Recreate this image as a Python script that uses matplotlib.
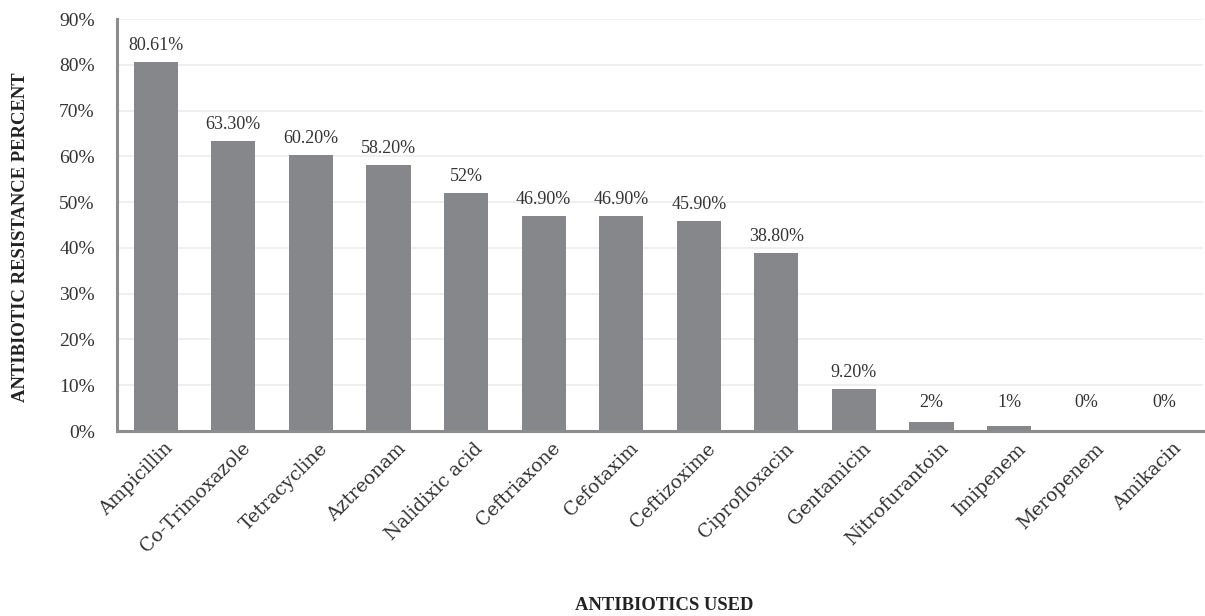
import matplotlib
matplotlib.use("Agg")
import matplotlib.pyplot as plt
import matplotlib.transforms as mtransforms
import numpy as np

categories = ["Ampicillin", "Co-Trimoxazole", "Tetracycline", "Aztreonam", "Nalidixic acid",
              "Ceftriaxone", "Cefotaxim", "Ceftizoxime", "Ciprofloxacin", "Gentamicin",
              "Nitrofurantoin", "Imipenem", "Meropenem", "Amikacin"]
values = [80.61, 63.30, 60.20, 58.20, 52, 46.90, 46.90, 45.90, 38.80, 9.20, 2, 1, 0, 0]
value_labels = ["80.61%", "63.30%", "60.20%", "58.20%", "52%", "46.90%", "46.90%", "45.90%",
                "38.80%", "9.20%", "2%", "1%", "0%", "0%"]
yticks = [0, 10, 20, 30, 40, 50, 60, 70, 80, 90]
ytick_labels = ["0%", "10%", "20%", "30%", "40%", "50%", "60%", "70%", "80%", "90%"]

plt.rcParams['font.family'] = ['Liberation Serif', 'DejaVu Serif']
text_color = "#333333"

fig = plt.figure(figsize=(12.05, 6.16), dpi=100)
ax = fig.add_axes([117/1205, 1 - 431/616, (1203-117)/1205, (431-19)/616])

x = np.arange(len(categories))
ax.bar(x, values, width=0.57, color="#86878a", zorder=3)

for xi, v, lab in zip(x, values, value_labels):
    ax.annotate(lab, xy=(xi, max(v, 2.6)), xytext=(0, 8.6), textcoords="offset points",
                ha="center", va="baseline", fontsize=13, color=text_color)

ax.set_xlim(-0.5, len(categories) - 0.5)
ax.set_ylim(0, 90)
ax.set_yticks(yticks)
ax.set_yticklabels(ytick_labels, fontsize=14, color=text_color)
ax.set_xticks(x)
ax.set_xticklabels(categories, rotation=45, ha="right", rotation_mode="anchor",
                   fontsize=13.5, color=text_color, family="DejaVu Serif")
ax.tick_params(axis="y", length=0, pad=16)
ax.tick_params(axis="x", length=0, pad=6)
offset = mtransforms.ScaledTranslation(8/100, 0, fig.dpi_scale_trans)
for lbl in ax.get_xticklabels():
    lbl.set_transform(lbl.get_transform() + offset)

ax.grid(axis="y", color="#ececec", linewidth=1.2, zorder=0)
for s in ["top", "right"]:
    ax.spines[s].set_visible(False)
for s in ["left", "bottom"]:
    ax.spines[s].set_color("#8c8c8c")
    ax.spines[s].set_linewidth(2.2)
    ax.spines[s].set_zorder(4)

fig.text(21/1205, 1 - 237/616, "ANTIBIOTIC RESISTANCE PERCENT", rotation=90,
         ha="center", va="center", fontsize=13.4, fontweight="bold", color="#222222")
fig.text(664/1205, 1 - 605/616, "ANTIBIOTICS USED", ha="center", va="center",
         fontsize=13.4, fontweight="bold", color="#222222")

fig.savefig("out.png", dpi=100)
